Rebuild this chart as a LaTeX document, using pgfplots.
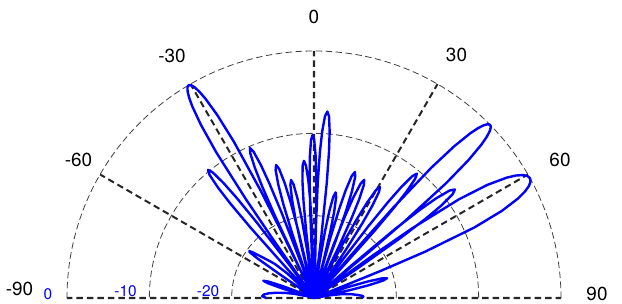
\documentclass[border=0pt]{standalone}
\usepackage{fontspec}
\setmainfont{TeX Gyre Heros}
\usepackage{pgfplots}
\pgfplotsset{compat=1.18}
\usepgfplotslibrary{polar}
\usetikzlibrary{calc}

\definecolor{spoke}{HTML}{262626}
\definecolor{ring}{HTML}{404040}

\begin{document}
\begin{tikzpicture}
\begin{polaraxis}[
  scale only axis,
  width=494bp, height=494bp,
  unit vector ratio=1 1 1,
  xmin=0, xmax=180,
  ymin=0, ymax=30,
  xtick={0,30,...,180}, xticklabels={},
  ytick={10,20,30}, yticklabels={},
  xmajorgrids, ymajorgrids,
  x grid style={spoke, line width=2bp, dash pattern=on 6.5bp off 4bp},
  y grid style={ring, line width=0.8bp, dash pattern=on 6.5bp off 3.5bp},
  axis line style={draw=none},
  major tick style={draw=none},
  clip=false,
]
% angle t in degrees from broadside (0 = up), level in dB; floor -30 dB sits at the centre
\addplot[blue, line width=2.4bp, line join=round, mark=none]
  table[x expr=90-\thisrow{t}, y expr=\thisrow{db}+30] {
t db
-90 -24.2
-88 -23.7
-86 -23.9
-84 -24.5
-82 -25.4
-80 -26.4
-78 -27.6
-76 -29.0
-75 -30
-74.7 -30
-73.95 -28.36
-73.2 -25.92
-72.2 -24.08
-71.2 -23.5
-70.2 -24.08
-69.2 -25.92
-68.45 -28.36
-67.7 -30
-56 -30
-55.3 -25
-55 -21.5
-54.5 -20.4
-54 -20.3
-53.2 -20.8
-52 -21.8
-50.5 -22.8
-49 -23.7
-47.5 -25.5
-46 -30
-43.1 -30
-42.575 -25.2
-42.05 -18.49
-41.525 -14.66
-41.0 -12.22
-40.3 -10.38
-39.6 -9.8
-38.9 -10.38
-38.2 -12.22
-37.675 -14.66
-37.15 -18.49
-36.625 -25.2
-36.1 -30
-35.3 -30
-34.916 -21.3
-34.58 -15.4
-33.86 -8.69
-33.14 -4.86
-32.42 -2.42
-31.94 -1.33
-31.46 -0.58
-30.98 -0.14
-30.5 0
-30.02 -0.14
-29.54 -0.58
-29.06 -1.33
-28.58 -2.42
-27.86 -4.86
-27.14 -8.69
-26.42 -15.4
-26.084 -21.3
-25.7 -30
-26.4 -30
-25.905 -25.6
-25.41 -18.89
-24.915 -15.06
-24.42 -12.62
-23.76 -10.78
-23.1 -10.2
-22.44 -10.78
-21.78 -12.62
-21.285 -15.06
-20.79 -18.89
-20.295 -25.6
-19.8 -30
-19.9 -30
-19.3 -28.6
-18.7 -21.89
-18.1 -18.06
-17.5 -15.62
-16.7 -13.78
-15.9 -13.2
-15.1 -13.78
-14.3 -15.62
-13.7 -18.06
-13.1 -21.89
-12.5 -28.6
-11.9 -30
-14.4 -30
-13.8 -24.09
-13.2 -20.26
-12.6 -17.82
-11.8 -15.98
-11.0 -15.4
-10.2 -15.98
-9.4 -17.82
-8.8 -20.26
-8.2 -24.09
-7.6 -30
-7.8 -30
-7.26 -28.7
-6.72 -21.99
-6.18 -18.16
-5.64 -15.72
-4.92 -13.88
-4.2 -13.3
-3.48 -13.88
-2.76 -15.72
-2.22 -18.16
-1.68 -21.99
-1.14 -28.7
-0.6 -30
-3.3 -30
-2.88 -25.6
-2.46 -18.89
-2.04 -15.06
-1.62 -12.62
-1.06 -10.78
-0.5 -10.2
0.06 -10.78
0.62 -12.62
1.04 -15.06
1.46 -18.89
1.88 -25.6
2.3 -30
0.9 -30
1.38 -22.7
1.86 -15.99
2.34 -12.16
2.82 -9.72
3.46 -7.88
4.1 -7.3
4.74 -7.88
5.38 -9.72
5.86 -12.16
6.34 -15.99
6.82 -22.7
7.3 -30
8.2 -30
8.8 -25.59
9.4 -21.76
10.0 -19.32
10.8 -17.48
11.6 -16.9
12.4 -17.48
13.2 -19.32
13.8 -21.76
14.4 -25.59
15.0 -30
14.0 -30
14.6 -29.3
15.2 -22.59
15.8 -18.76
16.4 -16.32
17.2 -14.48
18.0 -13.9
18.8 -14.48
19.6 -16.32
20.2 -18.76
20.8 -22.59
21.4 -29.3
22.0 -30
19.0 -30
19.6 -29.8
20.2 -23.09
20.8 -19.26
21.4 -16.82
22.2 -14.98
23.0 -14.4
23.8 -14.98
24.6 -16.82
25.2 -19.26
25.8 -23.09
26.4 -29.8
27.0 -30
26.7 -30
27.3 -29.7
27.9 -22.99
28.5 -19.16
29.1 -16.72
29.9 -14.88
30.7 -14.3
31.5 -14.88
32.3 -16.72
32.9 -19.16
33.5 -22.99
34.1 -29.7
34.7 -30
36.1 -30
36.625 -25.8
37.15 -19.09
37.675 -15.26
38.2 -12.82
38.9 -10.98
39.6 -10.4
40.3 -10.98
41.0 -12.82
41.525 -15.26
42.05 -19.09
42.575 -25.8
43.1 -30
40.5 -30
40.9 -21.3
41.25 -15.4
42.0 -8.69
42.75 -4.86
43.5 -2.42
44.0 -1.33
44.5 -0.58
45.0 -0.14
45.5 0
46.0 -0.14
46.5 -0.58
47.0 -1.33
47.5 -2.42
48.25 -4.86
49.0 -8.69
49.75 -15.4
50.1 -21.3
50.5 -30
48.4 -30
49.0 -23.8
49.6 -17.09
50.2 -13.26
50.8 -10.82
51.6 -8.98
52.4 -8.4
53.2 -8.98
54.0 -10.82
54.6 -13.26
55.2 -17.09
55.8 -23.8
56.4 -30
53.5 -30
54.1 -21.3
54.625 -15.4
55.75 -8.69
56.875 -4.86
58.0 -2.42
58.75 -1.33
59.5 -0.58
60.25 -0.14
61.0 0
61.75 -0.14
62.5 -0.58
63.25 -1.33
64.0 -2.42
65.125 -4.86
66.25 -8.69
67.375 -15.4
67.9 -21.3
68.5 -30
70.65 -30
71.4 -29.49
72.15 -25.66
72.9 -23.22
73.9 -21.38
74.9 -20.8
75.9 -21.38
76.9 -23.22
77.65 -25.66
78.4 -29.49
79.15 -30
80.5 -28
82 -26.6
84 -25.5
86 -24.7
87.5 -24.1
88.5 -24.0
90 -24.2
};
\coordinate (O) at (axis cs:0,0);
\end{polaraxis}

\begin{scope}[font=\fontsize{19}{22}\selectfont]
\node at ($(O)+(0bp,281bp)$) {0};
\node at ($(O)+(142.5bp,243bp)$) {30};
\node at ($(O)+(-142bp,242bp)$) {-30};
\node at ($(O)+(246bp,138bp)$) {60};
\node at ($(O)+(-235.5bp,138bp)$) {-60};
\node at ($(O)+(283bp,4bp)$) {90};
\node at ($(O)+(-294.5bp,9.5bp)$) {-90};
\end{scope}
\begin{scope}[font=\fontsize{15.5}{18}\selectfont, text=blue, inner sep=0pt]
\node[anchor=base east] at ($(O)+(-261.5bp,-1bp)$) {0};
\node[anchor=base east] at ($(O)+(-177bp,1.5bp)$) {-10};
\node[anchor=base east] at ($(O)+(-94.5bp,1.5bp)$) {-20};
\end{scope}

\pgfresetboundingbox
\path[use as bounding box] ($(O)+(-314bp,-6bp)$) rectangle ($(O)+(308bp,298bp)$);
\end{tikzpicture}
\end{document}
